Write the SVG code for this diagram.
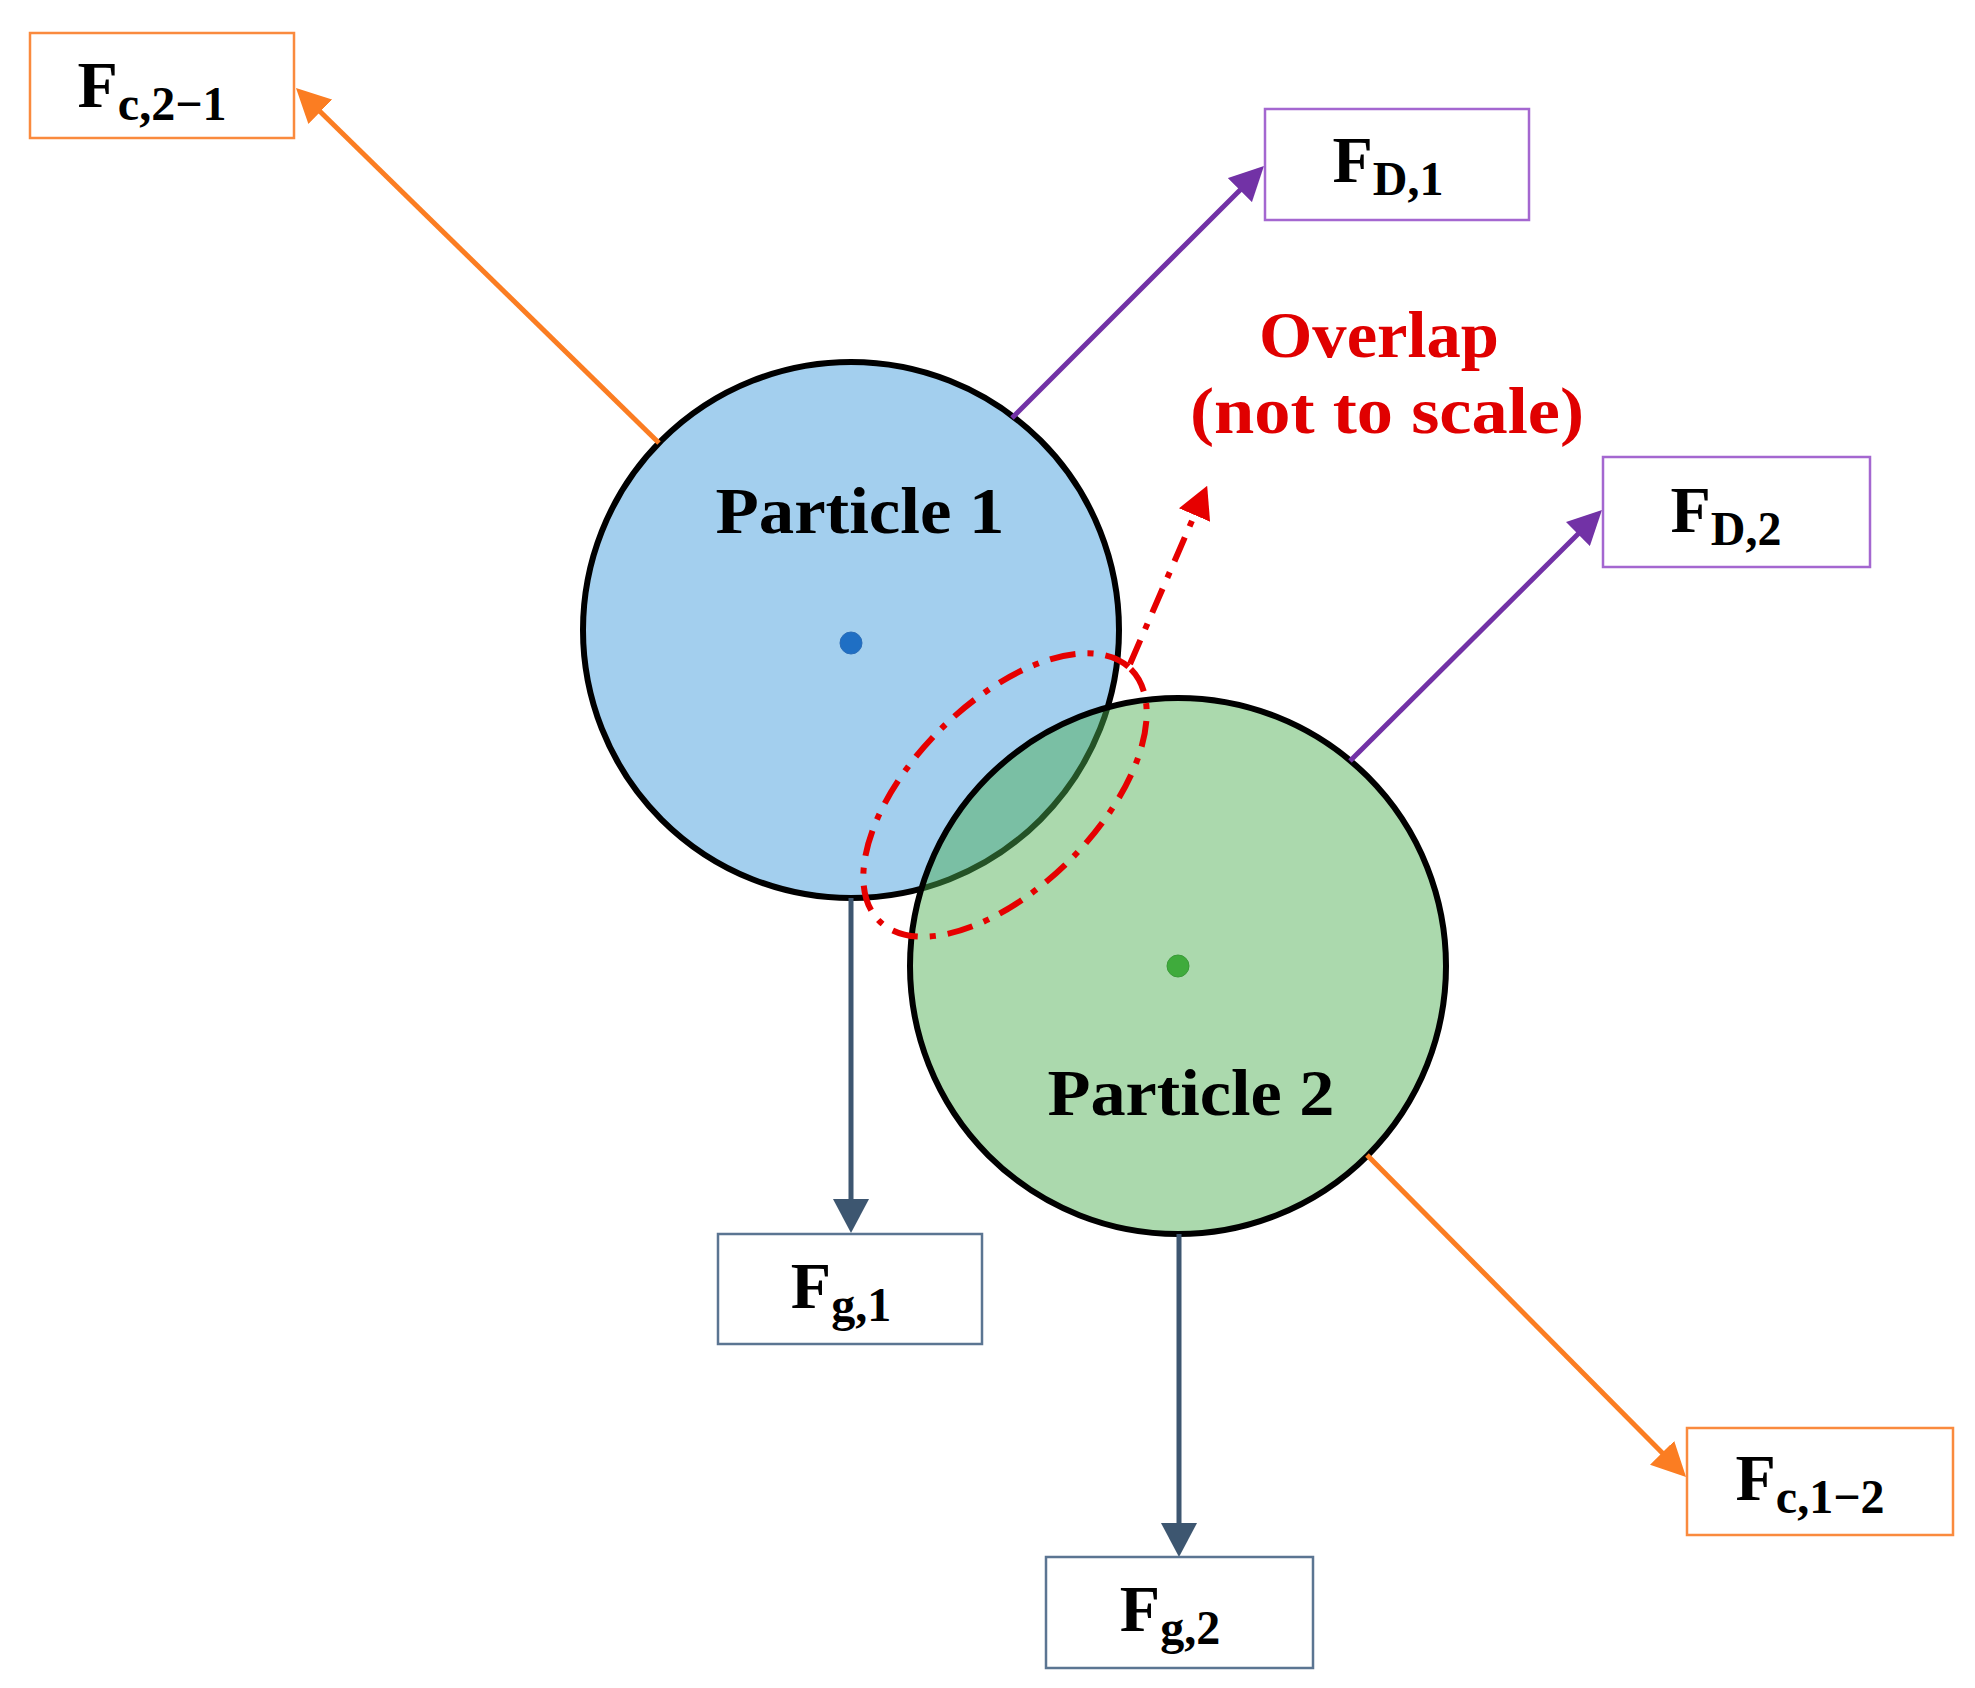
<svg xmlns="http://www.w3.org/2000/svg" width="1975" height="1688" viewBox="0 0 1975 1688">
<style>
  .lbl { font-family: "Liberation Serif", "Times New Roman", serif; font-weight: bold; fill: #000; }
  .f { font-size: 66px; }
  .sub { font-size: 48px; }
  .red { font-family: "Liberation Serif", "Times New Roman", serif; font-weight: bold; fill: #e00000; font-size: 66px; }
  .box { fill: #fff; stroke-width: 2.5; }
  .orange { stroke: #fb7d22; }
  .purple { stroke: #7232a6; }
  .slate { stroke: #3d5670; }
  .conn { fill: none; stroke-width: 5; }
  .dashdot { fill: none; stroke: #e60000; stroke-width: 6; stroke-dasharray: 26 12 6 12; }
</style>
<defs>
  <marker id="mOrange" markerUnits="userSpaceOnUse" markerWidth="34" markerHeight="34" refX="25" refY="17" orient="auto">
    <path d="M0,0 L34,17 L0,34 z" fill="#fb7d22"/>
  </marker>
  <marker id="mPurple" markerUnits="userSpaceOnUse" markerWidth="34" markerHeight="34" refX="25" refY="17" orient="auto">
    <path d="M0,0 L34,17 L0,34 z" fill="#7232a6"/>
  </marker>
  <marker id="mSlate" markerUnits="userSpaceOnUse" markerWidth="34" markerHeight="36" refX="26" refY="18" orient="auto">
    <path d="M0,0 L34,18 L0,36 z" fill="#3d5670"/>
  </marker>
  <marker id="mRed" markerUnits="userSpaceOnUse" markerWidth="32" markerHeight="34" refX="24" refY="17" orient="auto">
    <path d="M0,0 L32,17 L0,34 z" fill="#e60000"/>
  </marker>
</defs>
<rect width="1975" height="1688" fill="#fff"/>

<g id="particle1">
  <circle cx="851" cy="630" r="268" fill="#a3cfee" stroke="#000" stroke-width="6"/>
  <circle cx="851" cy="643" r="11" fill="#1f6fc4" stroke="#2a6db8" stroke-width="1"/>
  <text class="lbl" x="860" y="533" font-size="66" text-anchor="middle" textLength="289" lengthAdjust="spacingAndGlyphs">Particle 1</text>
</g>

<g id="particle2">
  <circle cx="1178" cy="966" r="268" fill="#4caf50" fill-opacity="0.47" stroke="#000" stroke-width="6"/>
  <circle cx="1178" cy="966" r="11" fill="#3fab3c" stroke="#3a9a38" stroke-width="1"/>
  <text class="lbl" x="1191" y="1115" font-size="66" text-anchor="middle" textLength="287" lengthAdjust="spacingAndGlyphs">Particle 2</text>
</g>

<g id="connectors">
  <line class="conn orange" x1="659" y1="443" x2="302.4" y2="94.3" marker-end="url(#mOrange)"/>
  <line class="conn purple" x1="1012" y1="418" x2="1257.6" y2="172.4" marker-end="url(#mPurple)"/>
  <line class="conn purple" x1="1350" y1="761" x2="1595.6" y2="516.4" marker-end="url(#mPurple)"/>
  <line class="conn slate" x1="851" y1="898" x2="851" y2="1225" marker-end="url(#mSlate)"/>
  <line class="conn slate" x1="1179" y1="1234" x2="1179" y2="1549" marker-end="url(#mSlate)"/>
  <line class="conn orange" x1="1367" y1="1155" x2="1679.7" y2="1470.6" marker-end="url(#mOrange)"/>
  <line class="dashdot" x1="1130" y1="664" x2="1204" y2="493" marker-end="url(#mRed)"/>
</g>

<g id="overlap">
  <ellipse class="dashdot" cx="1005" cy="795" rx="178" ry="92" transform="rotate(-45 1005 795)"/>
  <text class="red" x="1379" y="357" text-anchor="middle" textLength="240" lengthAdjust="spacingAndGlyphs">Overlap</text>
  <text class="red" x="1387" y="433" text-anchor="middle" textLength="394" lengthAdjust="spacingAndGlyphs">(not to scale)</text>
</g>

<g id="Fc21">
  <rect class="box" x="30" y="33" width="264" height="105" style="stroke:#fa8a3e"/>
  <text class="lbl f" x="152" y="107" text-anchor="middle">F<tspan class="sub" dy="13">c,2−1</tspan></text>
</g>
<g id="FD1">
  <rect class="box" x="1265" y="109" width="264" height="111" style="stroke:#a467d0"/>
  <text class="lbl f" x="1388" y="182" text-anchor="middle">F<tspan class="sub" dy="13">D,1</tspan></text>
</g>
<g id="FD2">
  <rect class="box" x="1603" y="457" width="267" height="110" style="stroke:#a467d0"/>
  <text class="lbl f" x="1726" y="532" text-anchor="middle">F<tspan class="sub" dy="13">D,2</tspan></text>
</g>
<g id="Fg1">
  <rect class="box" x="718" y="1234" width="264" height="110" style="stroke:#5b7592"/>
  <text class="lbl f" x="841" y="1308" text-anchor="middle">F<tspan class="sub" dy="13">g,1</tspan></text>
</g>
<g id="Fg2">
  <rect class="box" x="1046" y="1557" width="267" height="111" style="stroke:#5b7592"/>
  <text class="lbl f" x="1170" y="1631" text-anchor="middle">F<tspan class="sub" dy="13">g,2</tspan></text>
</g>
<g id="Fc12">
  <rect class="box" x="1687" y="1428" width="266" height="107" style="stroke:#fa8a3e"/>
  <text class="lbl f" x="1810" y="1500" text-anchor="middle">F<tspan class="sub" dy="13">c,1−2</tspan></text>
</g>
</svg>
